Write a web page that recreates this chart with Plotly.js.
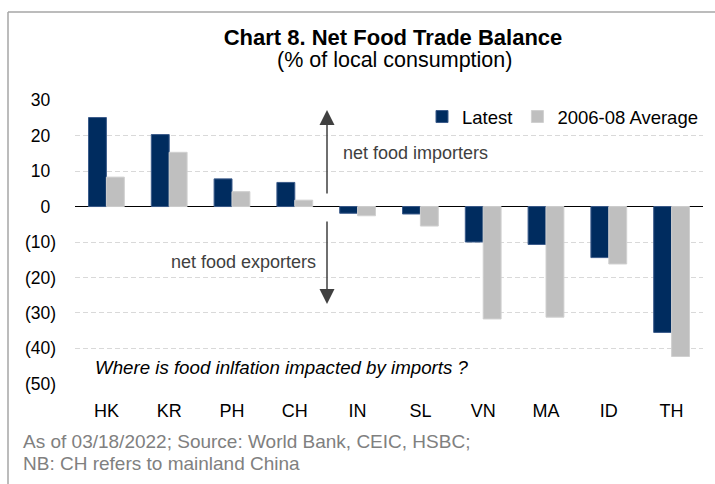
<!DOCTYPE html>
<html>
<head>
<meta charset="utf-8">
<script src="https://cdn.plot.ly/plotly-3.0.1.min.js"></script>
<style>
  html, body { margin: 0; padding: 0; background: #ffffff; }
  #chart { width: 715px; height: 484px; }
</style>
</head>
<body>
<div id="chart"></div>
<script>
// ---- Data ----
const categories = ["HK", "KR", "PH", "CH", "IN", "SL", "VN", "MA", "ID", "TH"];
const latest     = [25.1, 20.3, 7.8, 6.8, -1.9, -2.1, -10.0, -10.7, -14.4, -35.5];
const avg0608    = [8.3, 15.3, 4.2, 1.8, -2.6, -5.5, -31.7, -31.2, -16.2, -42.3];
const seriesNames = ["Latest", "2006-08 Average"];
const yTickVals  = [30, 20, 10, 0, -10, -20, -30, -40, -50];
const yTickText  = yTickVals.map(v => v < 0 ? "(" + Math.abs(v) + ")" : v + "\u2004");
const footerLines = ["As of 03/18/2022; Source: World Bank, CEIC, HSBC;", "NB: CH refers to mainland China"];

const FONT = "Liberation Sans, Arial, sans-serif";

// plot-area geometry in pixels (for placing decorations)
const W = 715, H = 484, L = 75, R = 12, T = 100, B = 100;
const pw = W - L - R, ph = H - T - B;
const px = x => (x - L) / pw;          // pixel x -> paper x
const py = y => (H - B - y) / ph;      // pixel y -> paper y

const traces = [
  {
    type: "bar", name: seriesNames[0], x: categories, y: latest,
    marker: { color: "#002C5F", line: { color: "#3B5B8A", width: 1 } }
  },
  {
    type: "bar", name: seriesNames[1], x: categories, y: avg0608,
    marker: { color: "#BFBFBF", line: { color: "#D0D0D0", width: 1 } }
  }
];

const layout = {
  width: W, height: H,
  margin: { l: L, r: R, t: T, b: B, pad: 0, autoexpand: false },
  paper_bgcolor: "#ffffff", plot_bgcolor: "#ffffff",
  font: { family: FONT, size: 18, color: "#000000" },
  barmode: "group", bargap: 0.43, bargroupgap: 0,
  title: {
    text: "<b>Chart 8. Net Food Trade Balance</b>",
    font: { family: FONT, size: 22, color: "#000000" },
    xref: "container", yref: "container",
    x: 393 / W, xanchor: "center", y: 1 - 37 / H, yanchor: "middle"
  },
  showlegend: true,
  legend: {
    orientation: "h", xref: "paper", yref: "paper",
    x: 1, xanchor: "right", y: py(117), yanchor: "middle",
    font: { family: FONT, size: 18.5, color: "#000000" },
    bgcolor: "rgba(0,0,0,0)", traceorder: "normal"
  },
  xaxis: {
    type: "category", showgrid: false, showline: false, zeroline: false,
    ticks: "", ticklabelstandoff: 14,
    tickfont: { family: FONT, size: 18, color: "#000000" },
    fixedrange: true
  },
  yaxis: {
    range: [-50.05, 30.05], tickvals: yTickVals, ticktext: yTickText,
    showgrid: true, gridcolor: "#D9D9D9", gridwidth: 1, griddash: "5px,3px",
    zeroline: true, zerolinecolor: "#000000", zerolinewidth: 1.5,
    showline: false, ticks: "", ticklabelstandoff: 18,
    tickfont: { family: FONT, size: 17.5, color: "#000000" },
    fixedrange: true
  },
  shapes: [
    // outer frame (top and left edges visible in the reference)
    { type: "line", xref: "paper", yref: "paper", x0: px(8), x1: px(716), y0: py(12), y1: py(12),
      line: { color: "#A6A6A6", width: 1.5 } },
    { type: "line", xref: "paper", yref: "paper", x0: px(8), x1: px(8), y0: py(12), y1: py(486),
      line: { color: "#A6A6A6", width: 1.5 } }
  ],
  annotations: [
    { text: "(% of local consumption)", xref: "paper", yref: "paper",
      x: px(394), y: py(60), xanchor: "center", yanchor: "middle", showarrow: false,
      font: { family: FONT, size: 21.5, color: "#000000" } },
    // up arrow: net food importers
    { xref: "paper", yref: "paper", x: px(327), y: py(110), axref: "paper", ayref: "paper",
      ax: px(327), ay: py(195), showarrow: true, arrowhead: 2, arrowsize: 2, arrowwidth: 1.5,
      arrowcolor: "#404040", text: "" },
    // down arrow: net food exporters
    { xref: "paper", yref: "paper", x: px(327), y: py(304), axref: "paper", ayref: "paper",
      ax: px(327), ay: py(220), showarrow: true, arrowhead: 2, arrowsize: 2, arrowwidth: 1.5,
      arrowcolor: "#404040", text: "" },
    { text: "net food importers", xref: "paper", yref: "paper", x: px(341), y: py(153),
      xanchor: "left", yanchor: "middle", showarrow: false,
      font: { family: FONT, size: 18, color: "#404040" } },
    { text: "net food exporters", xref: "paper", yref: "paper", x: px(318), y: py(262),
      xanchor: "right", yanchor: "middle", showarrow: false,
      font: { family: FONT, size: 18, color: "#404040" } },
    { text: "<i>Where is food inlfation impacted by imports ?</i>", xref: "paper", yref: "paper",
      x: px(93), y: py(367), xanchor: "left", yanchor: "middle", showarrow: false,
      font: { family: FONT, size: 18.7, color: "#000000" } },
    { text: footerLines[0], xref: "paper", yref: "paper", x: px(21), y: py(441),
      xanchor: "left", yanchor: "middle", showarrow: false,
      font: { family: FONT, size: 19, color: "#808080" } },
    { text: footerLines[1], xref: "paper", yref: "paper", x: px(21), y: py(463),
      xanchor: "left", yanchor: "middle", showarrow: false,
      font: { family: FONT, size: 19, color: "#808080" } }
  ]
};

Plotly.newPlot("chart", traces, layout, { displayModeBar: false, staticPlot: true });
</script>
</body>
</html>
